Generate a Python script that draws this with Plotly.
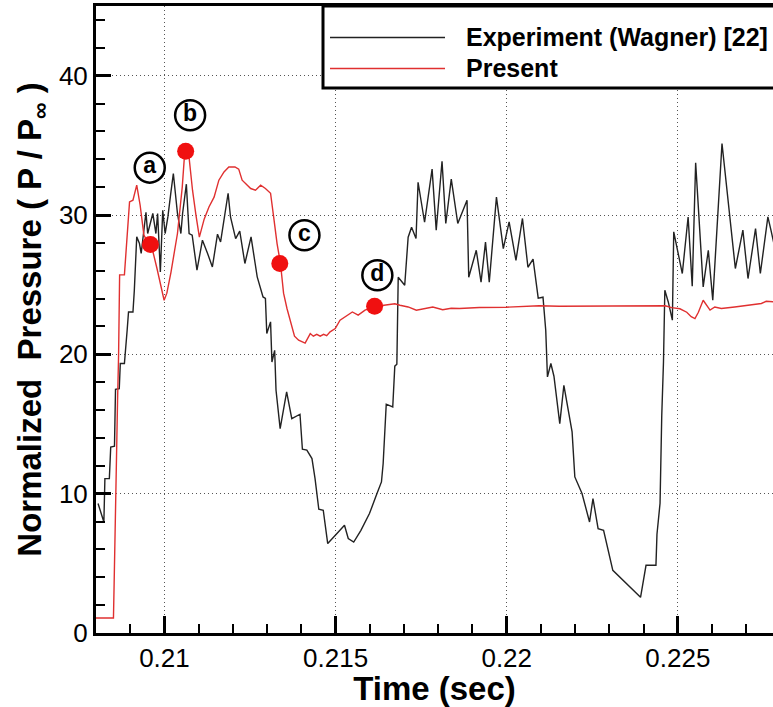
import plotly.graph_objects as go

# ---------------- data ----------------
exp_time = [0.20806, 0.20823, 0.20826, 0.20839, 0.20843, 0.20854, 0.20857, 0.20868, 0.20871, 0.20883,
            0.20891, 0.20895, 0.20908, 0.20912, 0.20919, 0.20927, 0.20932, 0.20935, 0.20946, 0.20951,
            0.20966, 0.20975, 0.20980, 0.20988, 0.20995, 0.21002, 0.21010, 0.21019, 0.21026, 0.21038,
            0.21048, 0.21053, 0.21064, 0.21072, 0.21081, 0.21095, 0.21111, 0.21126, 0.21140, 0.21155,
            0.21164, 0.21186, 0.21193, 0.21208, 0.21220, 0.21235, 0.21253, 0.21265, 0.21271, 0.21288,
            0.21295, 0.21299, 0.21310, 0.21314, 0.21322, 0.21326, 0.21338, 0.21357, 0.21372, 0.21396,
            0.21403, 0.21416, 0.21431, 0.21440, 0.21451, 0.21464, 0.21477, 0.21504, 0.21526, 0.21537,
            0.21553, 0.21574, 0.21599, 0.21619, 0.21634, 0.21639, 0.21648, 0.21667, 0.21673, 0.21679,
            0.21683, 0.21702, 0.21712, 0.21722, 0.21735, 0.21741, 0.21760, 0.21782, 0.21794, 0.21811,
            0.21822, 0.21838, 0.21857, 0.21884, 0.21889, 0.21911, 0.21925, 0.21938, 0.21949, 0.21970,
            0.21990, 0.22007, 0.22027, 0.22046, 0.22062, 0.22077, 0.22092, 0.22106, 0.22114, 0.22119,
            0.22129, 0.22138, 0.22155, 0.22167, 0.22191, 0.22199, 0.22220, 0.22242, 0.22252, 0.22267,
            0.22283, 0.22310, 0.22391, 0.22407, 0.22436, 0.22439, 0.22448, 0.22453, 0.22458, 0.22462,
            0.22472, 0.22484, 0.22488, 0.22513, 0.22530, 0.22542, 0.22552, 0.22574, 0.22589, 0.22602,
            0.22629, 0.22668, 0.22690, 0.22705, 0.22727, 0.22741, 0.22763, 0.22772, 0.22792]
exp_pressure = [9.29, 7.97, 11.08, 11.08, 13.35, 13.40, 17.49, 17.54, 19.34, 19.34,
                21.73, 23.04, 23.04, 24.60, 28.43, 27.95, 27.24, 27.95, 30.20, 28.67,
                30.11, 28.67, 30.11, 25.92, 30.34, 28.67, 29.86, 31.66, 32.98, 30.11,
                28.67, 30.11, 32.21, 28.67, 28.55, 26.04, 28.19, 27.24, 26.27, 28.62,
                28.07, 31.56, 29.86, 28.31, 28.84, 26.52, 28.43, 26.52, 25.56, 24.12,
                24.01, 21.49, 22.33, 19.45, 20.29, 17.42, 14.67, 17.30, 15.39, 15.70,
                13.19, 13.12, 12.52, 11.08, 8.88, 8.81, 6.42, 7.14, 7.73, 6.78,
                6.53, 7.37, 8.57, 9.89, 10.84, 12.16, 16.42, 16.22, 19.15, 19.29,
                25.53, 24.96, 28.41, 29.12, 28.31, 32.35, 29.48, 33.29, 28.91, 33.86,
                29.39, 32.57, 29.39, 31.06, 25.53, 27.47, 25.18, 28.05, 25.18, 31.28,
                27.59, 29.50, 26.75, 29.75, 26.25, 26.83, 24.03, 24.10, 21.73, 18.38,
                19.34, 18.43, 15.03, 17.78, 14.43, 11.20, 10.01, 7.97, 9.65, 7.49,
                7.37, 4.50, 2.56, 4.86, 4.86, 7.09, 9.31, 15.63, 19.43, 24.60,
                23.76, 22.45, 28.79, 25.80, 29.86, 24.89, 33.75, 24.84, 27.47, 23.88,
                35.13, 26.16, 28.91, 25.44, 29.03, 25.80, 29.86, 28.91, 26.70]

sim_time = [0.20800, 0.20851, 0.20853, 0.20855, 0.20859, 0.20863, 0.20866, 0.20869, 0.20883, 0.20898,
            0.20908, 0.20919, 0.20929, 0.20940, 0.20956, 0.20966, 0.20978, 0.20990, 0.20999, 0.21007,
            0.21019, 0.21038, 0.21052, 0.21058, 0.21065, 0.21072, 0.21082, 0.21092, 0.21102, 0.21116,
            0.21130, 0.21145, 0.21159, 0.21174, 0.21188, 0.21206, 0.21217, 0.21227, 0.21242, 0.21252,
            0.21266, 0.21281, 0.21295, 0.21310, 0.21319, 0.21329, 0.21339, 0.21348, 0.21358, 0.21373,
            0.21380, 0.21392, 0.21411, 0.21426, 0.21435, 0.21445, 0.21455, 0.21465, 0.21474, 0.21484,
            0.21499, 0.21513, 0.21533, 0.21549, 0.21566, 0.21586, 0.21615, 0.21649, 0.21673, 0.21688,
            0.21712, 0.21736, 0.21760, 0.21784, 0.21813, 0.21838, 0.21862, 0.21920, 0.21998, 0.22046,
            0.22095, 0.22153, 0.22269, 0.22385, 0.22434, 0.22463, 0.22482, 0.22506, 0.22526, 0.22539,
            0.22550, 0.22560, 0.22574, 0.22584, 0.22594, 0.22608, 0.22627, 0.22666, 0.22705, 0.22744,
            0.22758, 0.22772, 0.22792]
sim_pressure = [1.08, 1.08, 3.57, 7.37, 11.39, 16.70, 19.94, 25.70, 25.70, 30.94,
                31.06, 32.14, 30.70, 28.55, 27.83, 27.40, 26.18, 24.96, 23.88, 24.39,
                25.89, 28.67, 32.00, 34.08, 34.53, 34.11, 31.78, 29.99, 28.41, 29.70,
                30.58, 31.28, 32.50, 33.09, 33.45, 33.45, 33.29, 32.50, 32.17, 31.90,
                31.78, 32.14, 31.90, 31.56, 29.86, 27.95, 26.52, 24.39, 23.29, 21.95,
                21.30, 21.01, 20.80, 21.49, 21.30, 21.44, 21.30, 21.44, 21.34, 21.61,
                21.85, 22.45, 22.81, 23.04, 22.81, 23.17, 23.43, 23.52, 23.63, 23.52,
                23.40, 23.17, 23.31, 23.40, 23.20, 23.31, 23.29, 23.36, 23.38, 23.45,
                23.49, 23.45, 23.45, 23.45, 23.49, 23.49, 23.35, 23.27, 23.02, 22.70,
                22.57, 23.02, 23.88, 23.52, 23.17, 23.40, 23.29, 23.40, 23.52, 23.65,
                23.81, 23.76, 23.74]

point_time = [0.20959, 0.21062, 0.21337, 0.21614]
point_pressure = [27.88, 34.58, 26.52, 23.45]
label_text = ["a", "b", "c", "d"]
label_time = [0.20957, 0.21075, 0.21409, 0.21622]
label_pressure = [33.40, 37.16, 28.55, 25.68]

x_tickvals = [0.21, 0.215, 0.22, 0.225]
x_ticktext = ["0.21", "0.215", "0.22", "0.225"]
y_tickvals = [0, 10, 20, 30, 40]
series_names = ["Experiment (Wagner) [22]", "Present"]

# ---------------- styling ----------------
FONT = "Liberation Sans, Arial, sans-serif"
BLACK_LINE = "#222222"
RED_LINE = "#e03030"
RED_DOT = "#f01010"

fig = go.Figure()
fig.add_trace(go.Scatter(x=exp_time, y=exp_pressure, mode="lines", name=series_names[0],
                         line=dict(color=BLACK_LINE, width=1.4), showlegend=False, hoverinfo="skip"))
fig.add_trace(go.Scatter(x=sim_time, y=sim_pressure, mode="lines", name=series_names[1],
                         line=dict(color=RED_LINE, width=1.4), showlegend=False, hoverinfo="skip"))
fig.add_trace(go.Scatter(x=point_time, y=point_pressure, mode="markers",
                         marker=dict(color=RED_DOT, size=17, line=dict(width=0)),
                         showlegend=False, hoverinfo="skip"))
fig.add_trace(go.Scatter(x=label_time, y=label_pressure, mode="markers+text",
                         text=["<b>%s</b>" % t for t in label_text], textposition="middle center",
                         marker=dict(symbol="circle", size=30, color="white",
                                     line=dict(color="black", width=2.5)),
                         textfont=dict(family=FONT, size=23, color="black"),
                         showlegend=False, hoverinfo="skip"))

axis_common = dict(
    showline=True, linewidth=3, linecolor="black",
    ticks="inside", tickwidth=3, tickcolor="black",
    showgrid=True, gridcolor="#555555", gridwidth=1, griddash="1px,3px",
    zeroline=False, tickfont=dict(family=FONT, size=26, color="black"),
)

fig.update_layout(
    width=773, height=707, autosize=False,
    margin=dict(l=96, r=0, t=6, b=74, pad=0),
    paper_bgcolor="white", plot_bgcolor="white",
    showlegend=False, hovermode=False,
    font=dict(family=FONT, color="black"),
    xaxis=dict(axis_common, range=[0.208, 0.22778], tickmode="array",
               tickvals=x_tickvals, ticktext=x_ticktext, ticklen=17, mirror=True,
               title=dict(text="<b>Time (sec)</b>", font=dict(family=FONT, size=33), standoff=4),
               minor=dict(tickmode="linear", tick0=0.208, dtick=0.001, ticks="inside",
                          ticklen=9, tickwidth=2, tickcolor="black", showgrid=False)),
    yaxis=dict(axis_common, range=[0, 45], tickmode="array", tickvals=y_tickvals,
               ticklen=15, mirror=False,
               title=dict(text="<b>Normalized&nbsp; Pressure ( P / P<sub>\u221e</sub> )</b>",
                          font=dict(family=FONT, size=33), standoff=8),
               minor=dict(tickmode="linear", tick0=0, dtick=2, ticks="inside",
                          ticklen=9, tickwidth=2, tickcolor="black", showgrid=False)),
)

# ---------------- legend (drawn box) ----------------
def px_x(p):
    return (p - 96) / 677.0

def px_y(p):
    return (633 - p) / 627.0

fig.add_shape(type="rect", xref="paper", yref="paper",
              x0=px_x(323), x1=1.3, y0=px_y(88), y1=1.0,
              line=dict(color="black", width=3), fillcolor="white", layer="above")
fig.add_shape(type="line", xref="paper", yref="paper",
              x0=px_x(330), x1=px_x(445), y0=px_y(37.5), y1=px_y(37.5),
              line=dict(color=BLACK_LINE, width=1.4), layer="above")
fig.add_shape(type="line", xref="paper", yref="paper",
              x0=px_x(330), x1=px_x(445), y0=px_y(68.5), y1=px_y(68.5),
              line=dict(color=RED_LINE, width=1.4), layer="above")
fig.add_annotation(xref="paper", yref="paper", x=px_x(464), y=px_y(37.5),
                   text="<b>%s</b>" % series_names[0], showarrow=False,
                   xanchor="left", yanchor="middle", font=dict(family=FONT, size=25, color="black"))
fig.add_annotation(xref="paper", yref="paper", x=px_x(464), y=px_y(68.5),
                   text="<b>%s</b>" % series_names[1], showarrow=False,
                   xanchor="left", yanchor="middle", font=dict(family=FONT, size=25, color="black"))

fig.write_html("out.html", config={"displayModeBar": False, "staticPlot": True},
               post_script="document.body.style.margin='0px';document.body.style.overflow='hidden';")
